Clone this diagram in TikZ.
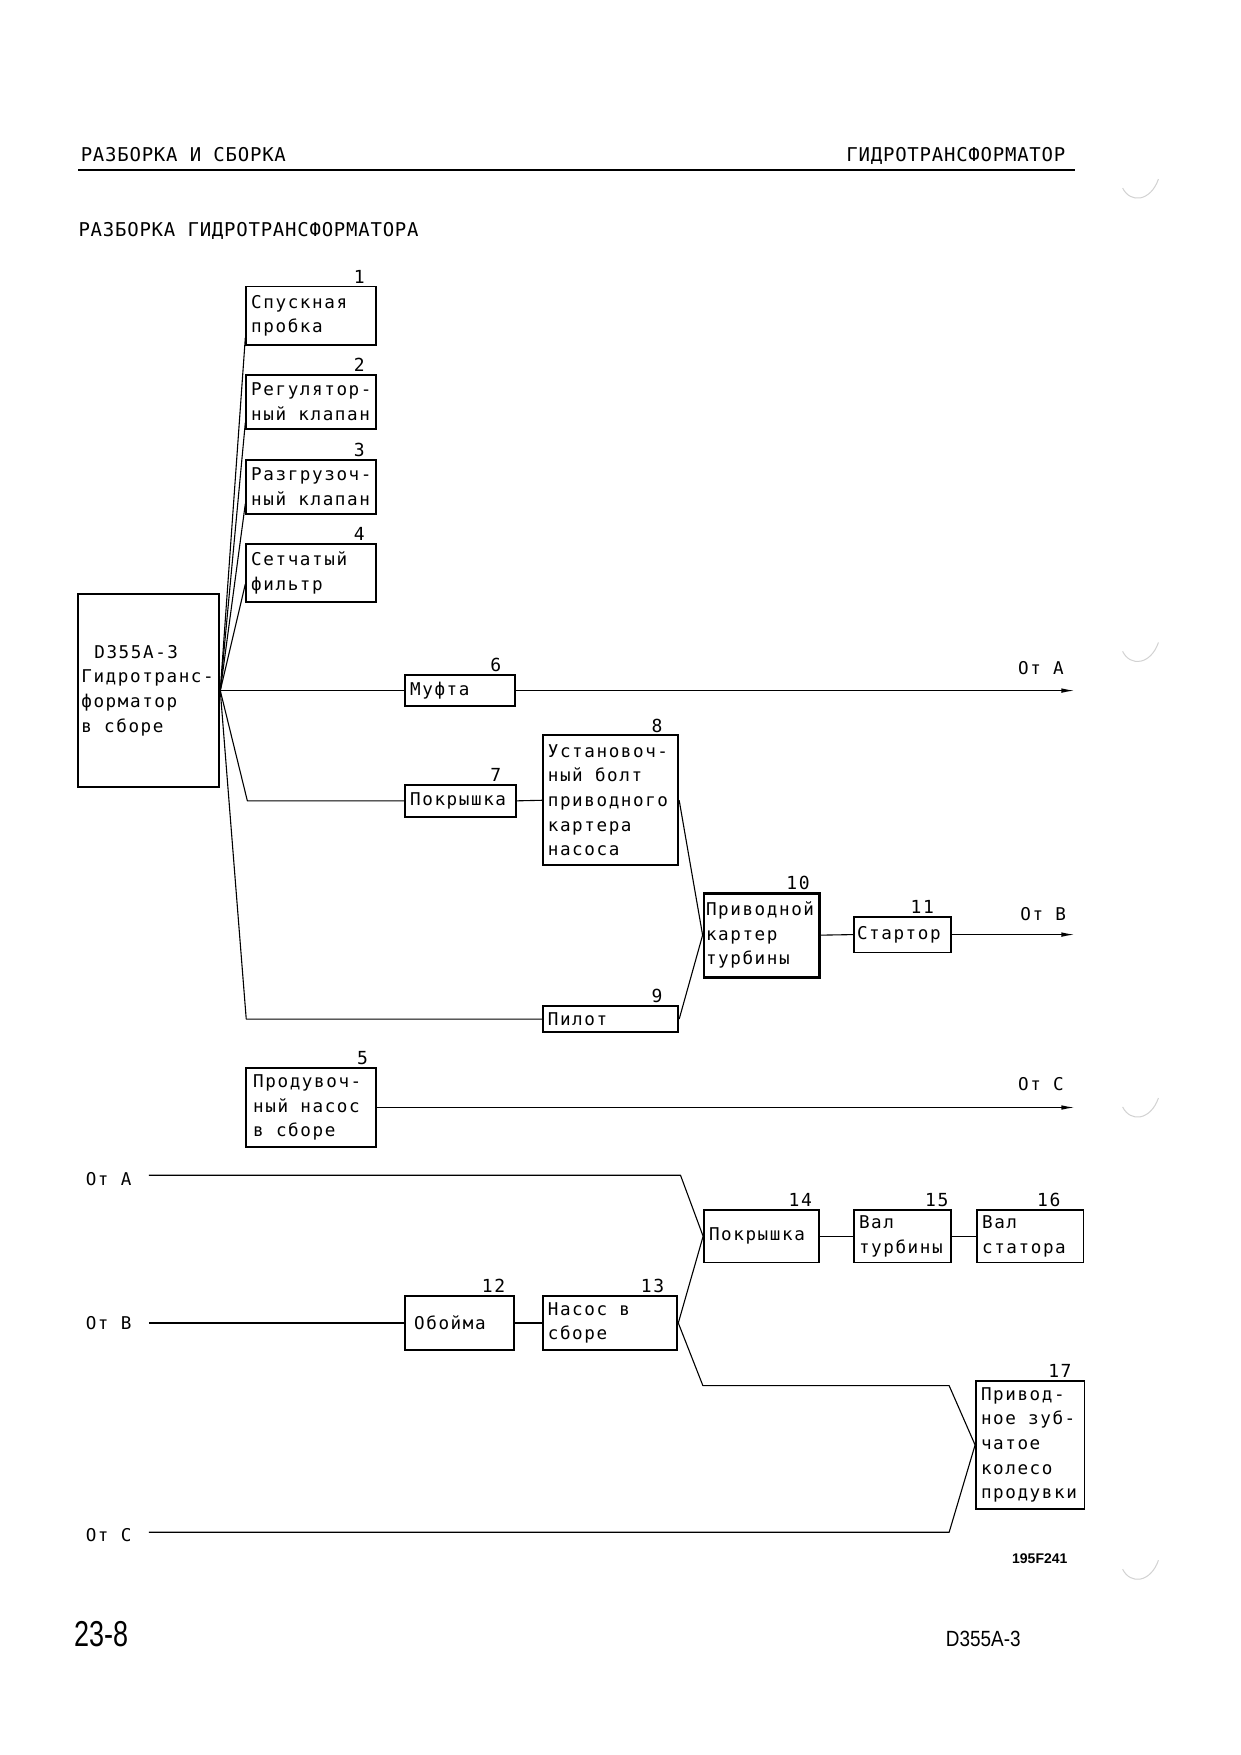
\documentclass[tikz,border=0pt]{standalone}
\usepackage{fontspec}
\usepackage{graphicx}
\usetikzlibrary{arrows.meta}
\setmainfont{Liberation Sans}
\newfontfamily\bxfont[LetterSpace=9]{DejaVu Sans Mono}
\newfontfamily\hdfont[LetterSpace=4]{DejaVu Sans Mono}
\hyphenpenalty=10000
\exhyphenpenalty=10000
\newcommand\ws{\hspace*{12.2pt}}
\newcommand\bxins{5pt}
\newcommand{\bx}[7][]{%
  \pgfmathsetlengthmacro{\bxw}{(#5-#3)*1.1191pt}%
  \pgfmathsetlengthmacro{\bxh}{(#6-#4)*1.1191pt}%
  \pgfmathsetlengthmacro{\bxtw}{\bxw-2*\bxins}%
  \node[blk,minimum width=\bxw,minimum height=\bxh,text width=\bxtw,inner xsep=\bxins,#1] (#2) at ({(#3+#5)/2},{(#4+#6)/2}) {#7};%
}
\tikzset{
  blk/.style={draw, line width=1.8pt, align=left, inner ysep=1pt,
    font=\bxfont\fontsize{17.6}{24.6}\selectfont},
  num/.style={anchor=base, inner sep=0pt, font=\bxfont\fontsize{18}{20}\selectfont},
  lbl/.style={anchor=base, inner sep=0pt, font=\bxfont\fontsize{17.6}{20}\selectfont},
  hd/.style={inner sep=0pt, font=\hdfont\fontsize{19}{22}\selectfont},
  ln/.style={line width=1.1pt, line join=round},
  arr/.style={ln, -{Latex[length=13pt,width=4.5pt]}},
}
\begin{document}
\begin{tikzpicture}[x=1.1191pt, y=-1.1191pt]
\useasboundingbox (0,0) rectangle (1108,1568);
\fill[white] (0,0) rectangle (1108,1568);

% header
\node[hd, anchor=base west] (h1) at (72,144) {РАЗБОРКА И СБОРКА};
\node[hd, anchor=base east] (h2) at (952,144) {ГИДРОТРАНСФОРМАТОР};
\coordinate (r1) at (70,152);
\coordinate (r2) at (960,152);
\draw[line width=2.4pt] (r1) -- (r2);
\node[hd, anchor=base west] (h3) at (70,211) {РАЗБОРКА ГИДРОТРАНСФОРМАТОРА};

% boxes, upper part
\bx{n1}{220}{256}{336}{308}{Спускная\\пробка}
\node[num] (k1) at (321,253) {1};
\bx{n2}{220}{335}{336}{383}{Регулятор-\\ный\ws клапан}
\node[num] (k2) at (321,332) {2};
\bx{n3}{220}{411}{336}{459}{Разгрузоч-\\ный\ws клапан}
\node[num] (k3) at (321,408) {3};
\bx{n4}{220}{486}{336}{538}{Сетчатый\\фильтр}
\node[num] (k4) at (321,483) {4};

\renewcommand\bxins{3pt}
\bx{m}{70}{531}{196}{703}{\hspace*{13pt}D355A-3\\Гидротранс-\\форматор\\в\ws сборе}
\renewcommand\bxins{5pt}

\bx{n6}{362}{603}{460}{631}{Муфта}
\node[num] (k6) at (443,600) {6};
\bx{n7}{362}{701}{461}{730}{Покрышка}
\node[num] (k7) at (443,698) {7};
\bx{n8}{485}{657}{606}{773}{Установоч-\\ный\ws болт\\приводного\\картера\\насоса}
\node[num] (k8) at (587,654) {8};
\bx{n9}{485}{899}{606}{922}{Пилот}
\node[num] (k9) at (587,896) {9};
\renewcommand\bxins{2pt}
\bx[line width=2.8pt]{n10}{629}{798}{732}{873}{Приводной\\картер\\турбины}
\renewcommand\bxins{5pt}
\node[num] (k10) at (713,795) {10};
\renewcommand\bxins{3pt}
\bx{n11}{763}{819}{850}{851}{Стартор}
\renewcommand\bxins{5pt}
\node[num] (k11) at (824,816) {11};

\renewcommand\bxins{7pt}
\bx{n5}{220}{954}{336}{1025}{Продувоч-\\ный\ws насос\\в\ws сборе}
\node[num] (k5) at (324,951) {5};
\renewcommand\bxins{9pt}
\bx{n12}{362}{1158}{459}{1206}{Обойма}
\renewcommand\bxins{5pt}
\node[num] (k12) at (441,1155) {12};
\bx[line width=2.3pt]{n13}{485}{1158}{605}{1206}{Насос\ws в\\сборе}
\node[num] (k13) at (583,1155) {13};
\bx{n14}{629}{1081}{732}{1128}{Покрышка}
\node[num] (k14) at (715,1078) {14};
\bx{n15}{763}{1081}{850}{1128}{Вал\\турбины}
\node[num] (k15) at (837,1078) {15};
\bx{n16}{873}{1081}{968}{1128}{Вал\\статора}
\node[num] (k16) at (937,1078) {16};
\bx{n17}{872}{1234}{969}{1348}{Привод-\\ное\ws зуб-\\чатое\\колесо\\продувки}
\node[num] (k17) at (947,1231) {17};

% labels
\node[lbl] (oA) at (930,603) {От\ws А};
\node[lbl] (oB) at (932,822) {От\ws В};
\node[lbl] (oC) at (930,974) {От\ws С};
\node[lbl] (iA) at (97,1059) {От\ws А};
\node[lbl] (iB) at (97,1188) {От\ws В};
\node[lbl] (iC) at (97,1377) {От\ws С};

% coordinates
\coordinate (eA) at (960,617);
\coordinate (eB) at (960,835);
\coordinate (eC) at (960,989.5);
\coordinate (c7) at (221,715.5);
\coordinate (c9) at (220,910.5);
\coordinate (sA) at (133,1050);
\coordinate (jA) at (608,1050);
\coordinate (sB) at (133,1182);
\coordinate (j13) at (628,1238);
\coordinate (j17a) at (848,1238);
\coordinate (sC) at (133,1369);
\coordinate (j17b) at (848,1369);

% fan from main box
\draw[ln] (m.east) -- ([yshift=8pt]n1.south west);
\draw[ln] (m.east) -- ([yshift=7pt]n2.south west);
\draw[ln] (m.east) -- ([yshift=11pt]n3.south west);
\draw[ln] (m.east) -- ([yshift=19pt]n4.south west);
\draw[ln] (m.east) -- (n6.west);
\draw[arr] (n6.east) -- (eA);
\draw[ln] (m.east) -- (c7) -- (n7.west);
\draw[ln] (m.east) -- (c9) -- (n9.west);
\draw[ln] (n7.east) -- (n8.west);
\draw[ln] (n8.east) -- (n10.west);
\draw[ln] (n9.east) -- (n10.west);
\draw[ln] (n10.east) -- (n11.west);
\draw[arr] (n11.east) -- (eB);
\draw[arr] (n5.east) -- (eC);

% lower part
\draw[ln] (sA) -- (jA) -- (n14.west);
\draw[ln] (sB) -- (n12.west);
\draw[ln] (n12.east) -- (n13.west);
\draw[ln] (n13.east) -- (n14.west);
\draw[ln] (n13.east) -- (j13) -- (j17a) -- (n17.west);
\draw[ln] (sC) -- (j17b) -- (n17.west);
\draw[ln] (n14.east) -- (n15.west);
\draw[ln] (n15.east) -- (n16.west);

% figure code and footer
\node[anchor=base, inner sep=0pt, font=\bfseries\fontsize{14}{14}\selectfont] (fig) at (929,1397) {195F241};
\node[anchor=base west, inner sep=0pt, font=\fontsize{36}{36}\selectfont] (pg) at (66,1471) {\scalebox{0.75}[1]{23-8}};
\node[anchor=base west, inner sep=0pt, font=\fontsize{22}{22}\selectfont] (md) at (845,1471) {\scalebox{0.86}[1]{D355A-3}};

% punch-hole marks
\foreach \yy in {164,578,985,1398}
  \draw[gray!35, line width=1pt] (1003,\yy+4) .. controls (1010,\yy+18) and (1028,\yy+16) .. (1035,\yy-4);
\end{tikzpicture}
\end{document}
